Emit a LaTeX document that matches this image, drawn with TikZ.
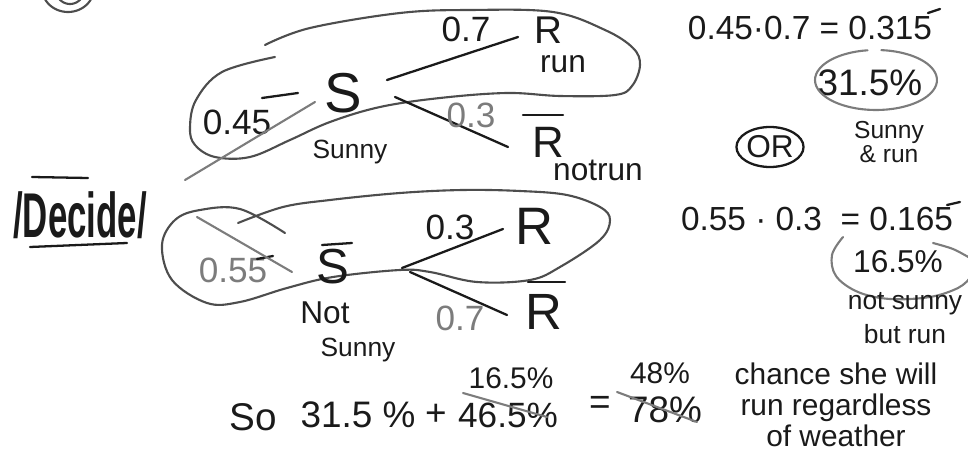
\documentclass[tikz,border=0pt]{standalone}
\usepackage{fontspec}
\setmainfont{Liberation Sans}
\usetikzlibrary{shapes.geometric}
\definecolor{InkBlack}{HTML}{1A1A1A}
\definecolor{PencilGray}{HTML}{7C7C7C}
\definecolor{LoopGray}{HTML}{4D4D4D}

\begin{document}
\begin{tikzpicture}[x=0.02cm,y=-0.02cm,
 ink/.style={text=InkBlack,inner sep=1pt},
 pencil/.style={text=PencilGray,inner sep=1pt},
 event/.style={ink,font=\fontsize{28}{28}\selectfont},
 prob/.style={font=\fontsize{20}{20}\selectfont},
 product/.style={ink,font=\fontsize{19}{19}\selectfont},
 remark/.style={ink,font=\fontsize{15}{15}\selectfont},
 branch/.style={draw=InkBlack,line width=1.3pt,line cap=round},
 blob/.style={draw=LoopGray,line width=1.2pt,line cap=round},
 strike/.style={draw=PencilGray,line width=1.2pt,line cap=round}]
\useasboundingbox (0,0) rectangle (968,459);

\draw[blob] plot[smooth,domain=15:165,samples=30] ({68+26*cos(\x)},{-12+24*sin(\x)});
\draw[blob] plot[smooth,domain=40:140,samples=20] ({70+14*cos(\x)},{-10+14*sin(\x)});

% sunny branch
\draw[blob] plot[smooth,tension=0.6] coordinates {(265,45) (310,28) (400,13) (470,10) (553,12) (605,30) (633,48) (640,65) (632,86) (615,95) (560,96) (507,93) (440,98) (380,107) (330,122) (290,140) (250,157) (215,157) (195,145) (190,128) (196,100) (222,72) (275,57)};
\node[event,font=\fontsize{32}{32}\selectfont] (S) at (343,93) {S};
\node[remark] (sunny) at (350,152) {Sunny};
\node[event,font=\fontsize{22}{22}\selectfont] (R1) at (548,30) {R};
\node[remark,font=\fontsize{18}{18}\selectfont] (run) at (563,64) {run};
\node[event,font=\fontsize{25}{25}\selectfont] (R1b) at (548,142) {R};
\node[remark,font=\fontsize{18}{18}\selectfont] (notrun) at (598,170) {notrun};
\draw[branch] ([shift={(-25,-27)}]R1b.center) -- ([shift={(15,-27)}]R1b.center);
\draw[branch] ([shift={(44,-13)}]S.center) -- ([shift={(-30,7)}]R1.center);
\draw[branch] ([shift={(52,4)}]S.center) -- ([shift={(-40,5)}]R1b.center);
\node[prob,ink] (pS) at (237,122) {0.45};
\node[prob,ink] (pR1) at (466,29) {0.7};
\node[prob,pencil] (pR1b) at (471,115) {0.3};
\draw[branch] (262,98) -- (298,93);
\draw[strike] (185,180) -- (315,102);

\node[ink,font=\fontsize{36}{36}\selectfont\bfseries] (decide) at (80,215) {\scalebox{0.55}[1]{/Decide/}};
\draw[branch] ([shift={(-48,-38)}]decide.center) -- ([shift={(8,-37)}]decide.center);
\draw[branch] ([shift={(-50,32)}]decide.center) -- ([shift={(47,28)}]decide.center);

% not sunny branch
\draw[blob] plot[smooth,tension=0.6] coordinates {(238,223) (283,207) (330,200) (400,193) (463,190) (520,191) (567,195) (600,207) (610,220) (600,240) (560,267) (530,280) (477,282) (430,272) (400,270) (333,277) (287,288) (240,302) (207,303) (172,280) (162,245) (175,220) (200,210) (240,209) (285,233)};
\node[event] (Sb) at (333,267) {S};
\draw[branch] ([shift={(-11,-22)}]Sb.center) -- ([shift={(19,-24)}]Sb.center);
\node[remark,font=\fontsize{18}{18}\selectfont] (notw) at (325,313) {Not};
\node[remark] (sunnyb) at (358,350) {Sunny};
\node[event,font=\fontsize{30}{30}\selectfont] (R2) at (535,226) {R};
\node[event,font=\fontsize{29}{29}\selectfont] (R2b) at (544,312) {R};
\draw[branch] ([shift={(-16,-30)}]R2b.center) -- ([shift={(21,-30)}]R2b.center);
\draw[branch] ([shift={(69,1)}]Sb.center) -- ([shift={(-32,3)}]R2.center);
\draw[branch] ([shift={(77,5)}]Sb.center) -- ([shift={(-37,3)}]R2b.center);
\node[prob,pencil] (pSb) at (233,270) {0.55};
\node[prob,ink] (pR2) at (450,227) {0.3};
\node[prob,pencil] (pR2b) at (460,318) {0.7};
\draw[branch] (257,259) -- (273,256);
\draw[strike] (197,217) -- (292,272);

% products
\node[product] (eqA) at (810,28) {0.45·0.7 = 0.315};
\draw[branch] (928,13) -- (940,9);
\node[product,font=\fontsize{21}{21}\selectfont] (pctA) at (870,83) {31.5\%};
\draw[strike] plot[smooth,domain=-85:262,samples=60] ({876+61*cos(\x)},{80+30*sin(\x)});
\node[remark,font=\fontsize{14}{12.5}\selectfont,align=center] (sunnyrun) at (889,142) {Sunny\\\& run};
\node[ink,draw=InkBlack,line width=1.3pt,ellipse,inner sep=0pt,minimum width=1.2cm,minimum height=0.8cm,font=\fontsize{18}{18}\selectfont] (or) at (770,147) {OR};

\node[product] (eqB) at (817,219) {0.55 · 0.3 \ = 0.165};
\draw[branch] (947,205) -- (960,202);
\node[product,font=\fontsize{18}{18}\selectfont] (pctB) at (898,262) {16.5\%};
\draw[strike] plot[smooth,tension=0.6] coordinates {(843,237) (832,255) (836,276) (858,292) (890,299) (930,297) (958,288) (970,278)};
\draw[strike] plot[smooth] coordinates {(933,243) (953,249) (970,258)};
\node[remark,align=center,font=\fontsize{15}{19}\selectfont] (nsbr) at (905,318) {not sunny\\but run};

% total
\node[ink,font=\fontsize{22}{22}\selectfont] (so) at (253,417) {So};
\node[ink,font=\fontsize{21}{21}\selectfont] (sumA) at (358,415) {31.5 \%};
\node[ink,font=\fontsize{21}{21}\selectfont] (plus) at (436,415) {+};
\node[ink,font=\fontsize{20}{20}\selectfont] (sumB) at (508,415) {46.5\%};
\node[ink,font=\fontsize{17}{17}\selectfont] (sumBnew) at (511,378) {16.5\%};
\draw[strike] (463,393) -- (547,417);
\node[ink,font=\fontsize{21}{21}\selectfont] (eq) at (600,405) {=};
\node[ink,font=\fontsize{21}{21}\selectfont] (tot) at (665,410) {78\%};
\node[ink,font=\fontsize{17}{17}\selectfont] (totnew) at (660,373) {48\%};
\draw[strike] (617,392) -- (697,422);
\node[remark,align=center,font=\fontsize{17}{17.6}\selectfont] (concl) at (836,405) {chance she will\\run regardless\\of weather};
\end{tikzpicture}
\end{document}
